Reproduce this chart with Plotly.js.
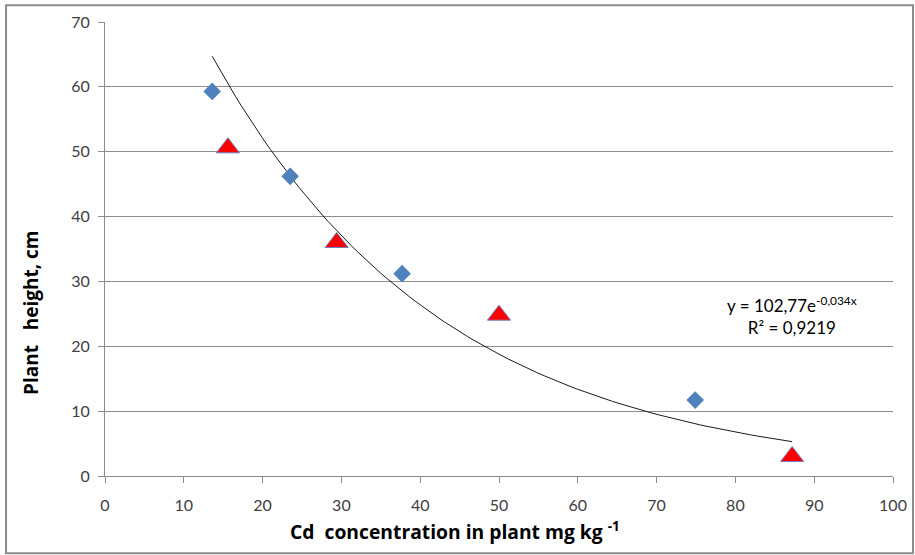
<!DOCTYPE html>
<html><head><meta charset="utf-8">
<script src="https://cdn.plot.ly/plotly-3.0.1.min.js"></script>
<style>html,body{margin:0;padding:0;background:#fff}#c{width:915px;height:555px}</style>
</head><body><div id="c"></div>
<script>
// Series 1 (blue diamonds)
const xDiamond = [13.6, 23.5, 37.7, 74.9];
const yDiamond = [59.3, 46.2, 31.2, 11.7];
// Series 2 (red triangles)
const xTriangle = [15.6, 29.4, 50.0, 87.2];
const yTriangle = [50.6, 36.0, 24.8, 3.0];
// Trendline coefficients as printed on the chart
const trendA = 102.77, trendB = -0.034;
const trendXmin = 13.6, trendXmax = 87.2;
const xTicks = [0,10,20,30,40,50,60,70,80,90,100];
const yTicks = [0,10,20,30,40,50,60,70];

const tx = [], ty = [];
for (let i = 0; i <= 100; i++) {
  const x = trendXmin + (trendXmax - trendXmin) * i / 100;
  tx.push(x); ty.push(trendA * Math.exp(trendB * x));
}

const font = "Lato, 'Open Sans', sans-serif";
const tfont = "'Open Sans', Lato, sans-serif";
const NB = '\u00a0';
const data = [
  {x: tx, y: ty, mode: 'lines', line: {color: '#1a1a1a', width: 1}, hoverinfo: 'skip', showlegend: false},
  {x: xDiamond, y: yDiamond, mode: 'markers', marker: {symbol: 'diamond', size: 13.5, color: '#4F81BD', line: {width: 0}}, showlegend: false},
  {x: xTriangle, y: yTriangle, mode: 'markers', marker: {symbol: 'triangle-up', size: 20, color: '#FF0000', line: {width: 1, color: '#6C7FBF'}}, showlegend: false}
];
const layout = {
  width: 915, height: 555,
  margin: {l: 105, r: 22, t: 22, b: 79},
  paper_bgcolor: '#fff', plot_bgcolor: '#fff',
  font: {family: font, size: 16, color: '#404040'},
  xaxis: {
    range: [0, 100], tickvals: xTicks, ticktext: xTicks.map(String),
    showgrid: false, zeroline: false, showline: true, linecolor: '#8c8c8c', linewidth: 1,
    ticks: 'outside', ticklen: 6, tickcolor: '#8c8c8c', ticklabelstandoff: 9,
    tickfont: {size: 16, color: '#404040', family: font}
  },
  yaxis: {
    range: [0, 70], tickvals: yTicks, ticktext: yTicks.map(String),
    showgrid: true, gridcolor: '#8c8c8c', gridwidth: 1, zeroline: false,
    showline: true, linecolor: '#8c8c8c', linewidth: 1,
    ticks: 'outside', ticklen: 6, tickcolor: '#8c8c8c', ticklabelstandoff: 5,
    tickfont: {size: 16, color: '#404040', family: font}
  },
  shapes: [
    {type: 'rect', xref: 'paper', yref: 'paper', x0: -0.1256, x1: 1.0254, y0: -0.17, y1: 1.037, line: {color: '#8c8c8c', width: 2}}
  ],
  annotations: [
    {xref: 'x', yref: 'y', x: 87.2, y: 24.8, text: 'y = 102,77e<sup>-0,034x</sup><br>R² = 0,9219', showarrow: false, align: 'center', font: {size: 17, color: '#000', family: font}},
    {xref: 'paper', yref: 'paper', x: 0.444, y: -0.121, xanchor: 'center', yanchor: 'middle', showarrow: false,
     text: '<b>Cd' + NB + NB + 'concentration in plant mg kg <sup>-1</sup></b>', font: {size: 19.3, color: '#000', family: tfont}},
    {xref: 'paper', yref: 'paper', x: -0.094, y: 0.361, xanchor: 'center', yanchor: 'middle', showarrow: false, textangle: -90,
     text: '<b>Plant' + NB + NB + NB + 'height, cm</b>', font: {size: 19, color: '#000', family: tfont}}
  ]
};
Plotly.newPlot('c', data, layout, {displayModeBar: false, staticPlot: true});
</script></body></html>
